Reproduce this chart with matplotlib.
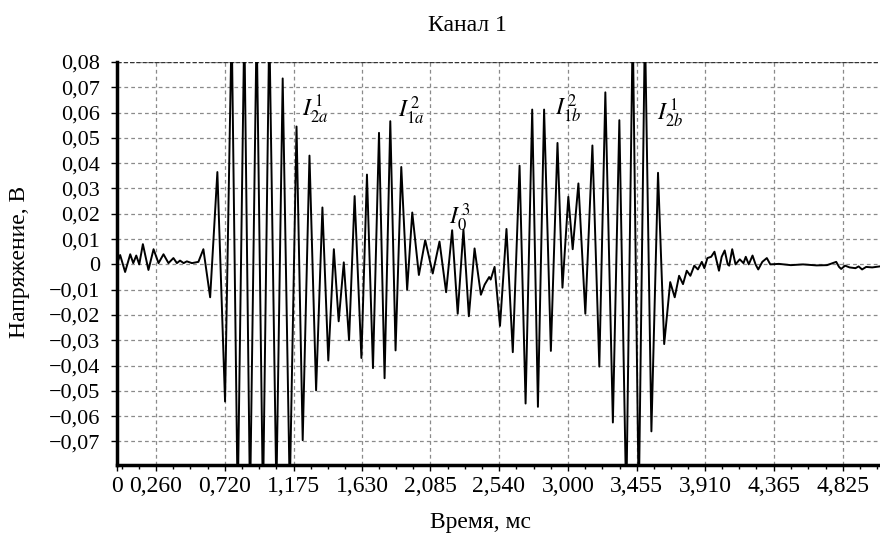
# -*-coding:utf-8-*-
import matplotlib
matplotlib.use('Agg')
import matplotlib.pyplot as plt
import numpy as np

plt.rcParams['font.family'] = ['Liberation Serif', 'DejaVu Serif']
plt.rcParams['mathtext.fontset'] = 'stix'

t_ms = [0.000, 0.023, 0.056, 0.090, 0.110, 0.130, 0.150, 0.174, 0.211, 0.245,
        0.278, 0.311, 0.344, 0.377, 0.400, 0.421, 0.445, 0.466, 0.500, 0.543,
        0.576, 0.621, 0.669, 0.720, 0.764, 0.804, 0.848, 0.886, 0.930, 0.972,
        1.014, 1.061, 1.103, 1.150, 1.195, 1.236, 1.281, 1.325, 1.367, 1.406,
        1.443, 1.475, 1.509, 1.544, 1.581, 1.626, 1.663, 1.703, 1.743, 1.780,
        1.818, 1.853, 1.891, 1.930, 1.964, 2.008, 2.050, 2.100, 2.145, 2.189,
        2.229, 2.266, 2.304, 2.340, 2.378, 2.420, 2.445, 2.475, 2.485, 2.511,
        2.547, 2.590, 2.632, 2.677, 2.717, 2.761, 2.799, 2.840, 2.885, 2.929,
        2.962, 3.001, 3.030, 3.068, 3.114, 3.161, 3.207, 3.247, 3.297, 3.340,
        3.386, 3.429, 3.469, 3.510, 3.553, 3.597, 3.638, 3.678, 3.708, 3.737,
        3.763, 3.788, 3.812, 3.838, 3.862, 3.888, 3.905, 3.925, 3.950, 3.972,
        3.990, 4.002, 4.020, 4.040, 4.060, 4.070, 4.090, 4.112, 4.140, 4.165,
        4.180, 4.200, 4.225, 4.245, 4.263, 4.290, 4.320, 4.343, 4.400, 4.480,
        4.560, 4.650, 4.720, 4.781, 4.800, 4.814, 4.840, 4.870, 4.909, 4.930,
        4.953, 4.980, 5.020, 5.070]

# напряжение, В (за пределами шкалы значения обрезаются осями)
u_v = [0.0000, 0.0037, -0.0030, 0.0040, 0.0005, 0.0035, 0.0000, 0.0080, -0.0022, 0.0060,
       0.0005, 0.0040, 0.0005, 0.0025, 0.0005, 0.0015, 0.0005, 0.0012, 0.0005, 0.0010,
       0.0060, -0.0130, 0.0365, -0.0542, 0.0950, -0.0950, 0.0950, -0.0950, 0.0950, -0.0950,
       0.0950, -0.0900, 0.0735, -0.0900, 0.0545, -0.0695, 0.0430, -0.0498, 0.0225, -0.0380,
       0.0060, -0.0225, 0.0008, -0.0300, 0.0270, -0.0370, 0.0355, -0.0410, 0.0520, -0.0450,
       0.0566, -0.0340, 0.0385, -0.0100, 0.0205, -0.0042, 0.0096, -0.0036, 0.0090, -0.0110,
       0.0135, -0.0195, 0.0138, -0.0205, 0.0063, -0.0120, -0.0080, -0.0050, -0.0060, -0.0010,
       -0.0243, 0.0140, -0.0347, 0.0390, -0.0550, 0.0612, -0.0563, 0.0612, -0.0342, 0.0480,
       -0.0092, 0.0267, 0.0060, 0.0320, -0.0195, 0.0470, -0.0404, 0.0680, -0.0625, 0.0570,
       -0.0950, 0.0950, -0.0950, 0.0950, -0.0660, 0.0362, -0.0315, -0.0070, -0.0130, -0.0045,
       -0.0078, -0.0025, -0.0045, -0.0005, -0.0020, 0.0010, -0.0015, 0.0025, 0.0030, 0.0050,
       0.0005, -0.0025, 0.0030, 0.0055, 0.0000, -0.0005, 0.0060, 0.0000, 0.0020, 0.0005,
       0.0030, 0.0000, 0.0035, 0.0000, -0.0020, 0.0010, 0.0025, 0.0000, 0.0002, -0.0003,
       0.0000, -0.0004, -0.0003, 0.0010, -0.0010, -0.0018, -0.0005, -0.0012, -0.0015, -0.0008,
       -0.0020, -0.0010, -0.0012, -0.0008]

x_ticks = [0, 0.260, 0.720, 1.175, 1.630, 2.085, 2.540, 3.000, 3.455, 3.910, 4.365, 4.825]
x_labels = ['0', '0,260', '0,720', '1,175', '1,630', '2,085', '2,540', '3,000',
            '3,455', '3,910', '4,365', '4,825']
y_ticks = [0.08, 0.07, 0.06, 0.05, 0.04, 0.03, 0.02, 0.01, 0, -0.01, -0.02, -0.03,
           -0.04, -0.05, -0.06, -0.07]
y_labels = ['0,08', '0,07', '0,06', '0,05', '0,04', '0,03', '0,02', '0,01', '0',
            '\u22120,01', '\u22120,02', '\u22120,03', '\u22120,04', '\u22120,05',
            '\u22120,06', '\u22120,07']

# подписи компонент
lab_text = [r'$I_{2a}^{\,1}$', r'$I_{1a}^{\,2}$', r'$I_{0}^{\,3}$', r'$I_{1b}^{\,2}$', r'$I_{2b}^{\,1}$']
lab_t = [1.231, 1.867, 2.206, 2.915, 3.592]
lab_u = [0.0582, 0.0582, 0.0159, 0.0590, 0.0570]

fig = plt.figure(figsize=(8.8, 5.34), dpi=100)
ax = fig.add_axes([0.1326, 0.1292, 0.8674, 0.7547])

ax.plot(t_ms, u_v, color='black', linewidth=1.4, zorder=3)

ax.set_xlim(0, 5.072)
ax.set_ylim(-0.0793, 0.08)

ax.set_xticks(x_ticks)
ax.set_xticklabels(x_labels, fontsize=17)
ax.set_yticks(y_ticks)
ax.set_yticklabels(y_labels, fontsize=16)
# минорные деления по оси времени
minor = []
for a, b in zip(x_ticks[1:-1], x_ticks[2:]):
    minor += list(np.linspace(a, b, 5)[1:-1])
minor += [0.260 - 0.114, 0.260 - 0.228, 4.825 + 0.114, 4.825 + 0.228]
ax.set_xticks(minor, minor=True)
ax.tick_params(axis='x', which='major', length=4, width=1, pad=4)
ax.tick_params(axis='x', which='minor', length=3, width=1)
ax.tick_params(axis='y', length=4, width=1, pad=8)

ax.grid(True, which='major', color='#8a8a8a', linestyle=(0, (3, 2.5)), linewidth=0.9)
ax.axhline(0.08, color='#333333', linestyle=(0, (3, 1.5)), linewidth=1.0, zorder=2)

for side in ['top', 'right']:
    ax.spines[side].set_visible(False)
ax.spines['left'].set_linewidth(2.5)
ax.spines['bottom'].set_linewidth(2.5)

for s, x, y in zip(lab_text, lab_t, lab_u):
    ax.text(x, y, s, fontsize=17, ha='left', va='baseline', zorder=4)

fig.text(467 / 880, 1 - 31 / 534, 'Канал 1', fontsize=17, ha='center', va='baseline')
fig.text(480 / 880, 1 - 528 / 534, 'Время, мс', fontsize=17, ha='center', va='baseline')
fig.text(20 / 880, 1 - 262 / 534, 'Напряжение, В', fontsize=17, ha='center', va='center',
         rotation=90)

fig.savefig('out.png', dpi=100)
